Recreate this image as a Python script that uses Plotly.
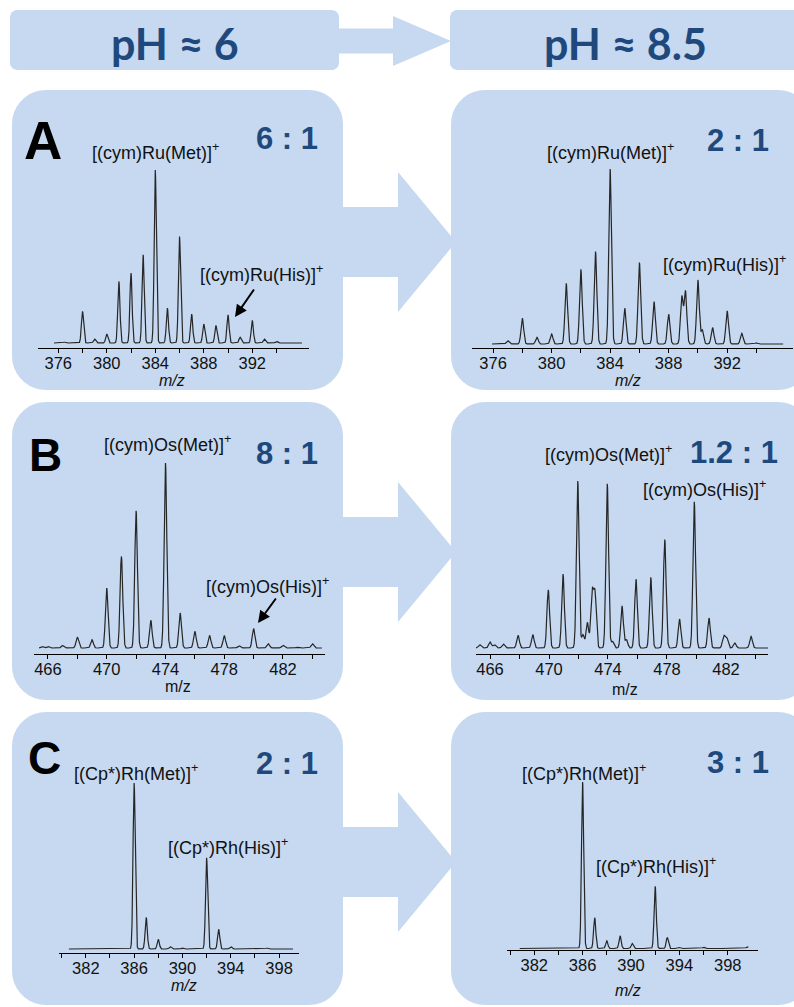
import numpy as np
import plotly.graph_objects as go

# ---------------------------------------------------------------- data
# peak lists (m/z, relative intensity in %) for each ESI-MS spectrum
ru_ph6_mz = [376.5, 378, 379, 380, 381, 382, 383, 384, 385, 386, 387, 388, 389, 390, 391, 392, 393, 394]
ru_ph6_int = [0.6, 18.3, 2.3, 5.2, 35.6, 40.4, 51.0, 100, 20.2, 61.5, 16.7, 11.0, 10.2, 16.3, 3.3, 13.1, 2.3, 1.0]

ru_ph85_mz = [377, 378, 379, 380, 381, 382, 383, 384, 385, 386, 387, 388, 388.9, 389.15, 390, 390.3,
              391, 392, 393, 394]
ru_ph85_int = [1.9, 14.7, 3.8, 5.7, 34.7, 42.7, 52.9, 100, 20.4, 46.6, 24.2, 17.0, 27.0, 30.0, 36.6, 8.0,
               9.4, 18.9, 6.1, 0.6]

os_ph6_mz = [465.6, 466, 467, 468, 469, 470, 471, 472, 473, 474, 475, 476, 477, 478, 479, 480, 481, 482, 483, 484]
os_ph6_int = [0.9, 0.9, 1.3, 5.9, 4.5, 32.4, 49.5, 74.2, 15.0, 100, 18.9, 9.0, 6.8, 6.7, 1.3, 10.5, 2.3, 1.4, 0.5, 2.3]

os_ph85_mz = [465.3, 466.0, 466.3, 466.9, 467.9, 468.9, 469.95, 470.95, 471.95, 472.3, 472.6, 472.92, 473.12,
              473.95, 474.3, 474.95, 475.25, 475.9, 476.9, 477.85, 478.85, 479.85, 480.85, 481.85, 482.05,
              482.6, 483.7]
os_ph85_int = [2.0, 3.6, 2.0, 2.4, 7.6, 8.0, 34.8, 44.3, 100, 8.0, 15.3, 33.0, 32.0,
               98.4, 4.0, 25.2, 5.0, 41.2, 42.3, 65.0, 17.3, 87.5, 17.9, 7.0, 6.0,
               3.0, 7.0]

rh_ph6_mz = [386, 387, 388, 389, 390, 392, 393, 394, 397]
rh_ph6_int = [100, 19.0, 5.8, 1.4, 0.6, 54.9, 11.8, 1.4, 0.6]

rh_ph85_mz = [386, 387, 388, 389.1, 390.1, 392, 393, 394, 396, 399.6]
rh_ph85_int = [100, 18.5, 4.6, 7.6, 3.0, 37.4, 6.6, 0.6, 0.8, 1.0]

# labelled ticks and unlabelled minor ticks per metal
ru_tick_labels = [376, 380, 384, 388, 392]
ru_minor_ticks = [378, 382, 386, 390, 394]
os_tick_labels = [466, 470, 474, 478, 482]
os_minor_ticks = [468, 472, 476, 480, 484]
rh_tick_labels = [382, 386, 390, 394, 398]
rh_minor_ticks = [380, 384, 388, 392, 396]

ph_headers = ["pH ≈ 6", "pH ≈ 8.5"]
row_letters = ["A", "B", "C"]
ratios = ["6 : 1", "2 : 1", "8 : 1", "1.2 : 1", "2 : 1", "3 : 1"]
met_labels = ["[(cym)Ru(Met)]<sup>+</sup>", "[(cym)Os(Met)]<sup>+</sup>", "[(Cp*)Rh(Met)]<sup>+</sup>"]
his_labels = ["[(cym)Ru(His)]<sup>+</sup>", "[(cym)Os(His)]<sup>+</sup>", "[(Cp*)Rh(His)]<sup>+</sup>"]

# ---------------------------------------------------------------- page geometry (pixels)
W, H = 794, 1007
FILL = "#C6D9F0"
DARK = "#1F497D"
LINE = "#262626"
TEXT = "#111111"
SANS = "Liberation Sans, Arial, sans-serif"


def X(p):
    return p / W


def Y(p):
    return 1 - p / H


def rounded_rect(x0, y0, x1, y1, r, n=10):
    """Outline of a rounded rectangle in page pixels."""
    xs, ys = [], []
    corners = [(x1 - r, y0 + r, -90, 0), (x1 - r, y1 - r, 0, 90),
               (x0 + r, y1 - r, 90, 180), (x0 + r, y0 + r, 180, 270)]
    for cx, cy, a0, a1 in corners:
        t = np.radians(np.linspace(a0, a1, n))
        xs.extend(cx + r * np.cos(t))
        ys.extend(cy + r * np.sin(t))
    xs.append(xs[0])
    ys.append(ys[0])
    return xs, ys


def block_arrow(x0, xh, xt, yc, shaft_h, head_h):
    pts = [(x0, yc - shaft_h / 2), (xh, yc - shaft_h / 2), (xh, yc - head_h / 2), (xt, yc),
           (xh, yc + head_h / 2), (xh, yc + shaft_h / 2), (x0, yc + shaft_h / 2), (x0, yc - shaft_h / 2)]
    return [p[0] for p in pts], [p[1] for p in pts]


# spectrum frames: plot x-extent, axis range, axis line / baseline / 100 % level (px)
frames = [
    dict(mz=ru_ph6_mz, inten=ru_ph6_int, xpx=(38, 309), xr=(374.33, 396.68), span=(375.65, 396.1),
         axis=348, base=343, top=170, labels=ru_tick_labels, minor=ru_minor_ticks, italic=True),
    dict(mz=ru_ph85_mz, inten=ru_ph85_int, xpx=(472, 793), xr=(374.56, 396.5), span=(375.93, 395.83),
         axis=348, base=344, top=169, labels=ru_tick_labels, minor=ru_minor_ticks, italic=True),
    dict(mz=os_ph6_mz, inten=os_ph6_int, xpx=(34, 325), xr=(465.05, 484.86), span=(465.4, 484.65),
         axis=654, base=648, top=463, labels=os_tick_labels, minor=os_minor_ticks, italic=False),
    dict(mz=os_ph85_mz, inten=os_ph85_int, xpx=(476, 768), xr=(465.05, 484.85), span=(465.05, 484.85),
         axis=654, base=648, top=481, labels=os_tick_labels, minor=os_minor_ticks, italic=False),
    dict(mz=rh_ph6_mz, inten=rh_ph6_int, xpx=(59, 299), xr=(379.78, 399.65), span=(380.6, 399.15),
         axis=953, base=949, top=783, labels=rh_tick_labels, minor=rh_minor_ticks, italic=True),
    dict(mz=rh_ph85_mz, inten=rh_ph85_int, xpx=(507, 758), xr=(379.75, 400.5), span=(380.8, 399.7),
         axis=950, base=948.5, top=782, labels=rh_tick_labels, minor=rh_minor_ticks, italic=True),
]
mz_title_pos = [(172, 380), (628, 381), (178, 686), (625, 689), (184, 985), (628, 990)]
PEAK_SIGMA = 0.09

fig = go.Figure()
layout = dict(
    width=W, height=H, margin=dict(l=0, r=0, t=0, b=0),
    paper_bgcolor="white", plot_bgcolor="rgba(0,0,0,0)", showlegend=False,
    # full-page backdrop axes in pixel units (first subplot, so drawn underneath)
    xaxis=dict(domain=[0, 1], range=[0, W], visible=False, fixedrange=True),
    yaxis=dict(domain=[0, 1], range=[H, 0], visible=False, fixedrange=True),
)
annotations = []


def backdrop(xs, ys):
    fig.add_trace(go.Scatter(x=xs, y=ys, mode="lines", fill="toself", fillcolor=FILL,
                             line=dict(width=0, color=FILL), xaxis="x", yaxis="y", hoverinfo="skip"))


# ---------------------------------------------------------------- background boxes and arrows
backdrop(*rounded_rect(10, 10, 339, 70, 7))
backdrop(*rounded_rect(450, 10, 812, 70, 7))
backdrop(*block_arrow(335, 393, 451, 41, 25, 50))

panel_rows = [(90, 390, 242), (402, 700, 552), (712, 1005, 862)]
for top, bottom, yc in panel_rows:
    backdrop(*rounded_rect(12, top, 343, bottom, 34))
    backdrop(*rounded_rect(451, top, 812, bottom, 34))
    backdrop(*block_arrow(340, 398, 456, yc, 70, 140))

for text, cx in zip(ph_headers, [175, 625]):
    annotations.append(dict(text=f"<b>{text}</b>", x=X(cx), y=Y(43), xref="paper", yref="paper",
                            showarrow=False, xanchor="center", yanchor="middle",
                            font=dict(family="Lato, Open Sans, sans-serif", size=43, color=DARK)))

# ---------------------------------------------------------------- spectra
for i, fr in enumerate(frames):
    n = str(i + 2)
    units_per_px = 100.0 / (fr["base"] - fr["top"])
    pad_top = 12
    y_lo = -(fr["axis"] - fr["base"]) * units_per_px
    y_hi = 100 + pad_top * units_per_px

    mz = np.arange(fr["span"][0], fr["span"][1], 0.004)
    centres = np.asarray(fr["mz"])[:, None]
    heights = np.asarray(fr["inten"])[:, None]
    profile = (heights * np.exp(-0.5 * ((mz[None, :] - centres) / PEAK_SIGMA) ** 2)).sum(axis=0)

    fig.add_trace(go.Scatter(x=mz, y=profile, mode="lines", line=dict(color=LINE, width=1.2),
                             xaxis="x" + n, yaxis="y" + n, hoverinfo="skip"))

    layout["xaxis" + n] = dict(
        domain=[X(fr["xpx"][0]), X(fr["xpx"][1])], range=list(fr["xr"]), anchor="y" + n,
        showline=True, linecolor="black", linewidth=1, showgrid=False, zeroline=False,
        ticks="outside", ticklen=4, tickwidth=1, tickcolor="black",
        tickmode="array", tickvals=fr["labels"], ticktext=[str(v) for v in fr["labels"]],
        minor=dict(tickmode="array", tickvals=fr["minor"], ticks="outside", ticklen=4,
                   tickwidth=1, tickcolor="black", showgrid=False),
        ticklabelstandoff=-4,
        tickfont=dict(family=SANS, size=16.5, color=TEXT), fixedrange=True,
    )
    layout["yaxis" + n] = dict(
        domain=[Y(fr["axis"]), Y(fr["top"] - pad_top)], range=[y_lo, y_hi], anchor="x" + n,
        visible=False, fixedrange=True,
    )

    tx, ty = mz_title_pos[i]
    title = "<i>m/z</i>" if fr["italic"] else "m/z"
    annotations.append(dict(text=title, x=X(tx), y=Y(ty), xref="paper", yref="paper", showarrow=False,
                            xanchor="center", yanchor="middle", font=dict(family=SANS, size=16, color=TEXT)))

# ---------------------------------------------------------------- labels
letter_pos = [(43, 140, 53), (45, 455, 46), (44, 758, 46)]
for letter, (lx, ly, size) in zip(row_letters, letter_pos):
    annotations.append(dict(text=f"<b>{letter}</b>", x=X(lx), y=Y(ly), xref="paper", yref="paper",
                            showarrow=False, xanchor="center", yanchor="middle",
                            font=dict(family=SANS, size=size, color="black")))

ratio_pos = [(287, 138), (738, 140), (287, 453), (734, 452), (287, 763), (738, 762)]
for text, (rx, ry) in zip(ratios, ratio_pos):
    annotations.append(dict(text=f"<b>{text}</b>", x=X(rx), y=Y(ry), xref="paper", yref="paper",
                            showarrow=False, xanchor="center", yanchor="middle",
                            font=dict(family=SANS, size=31, color=DARK)))

met_pos = [(155, 152), (610, 152), (167, 443), (608, 453), (136, 772), (584, 772)]
his_pos = [(261, 273), (724, 263), (267, 585), (704, 488), (228, 846), (656, 865)]
for i in range(6):
    row = i // 2
    for text, (lx, ly) in ((met_labels[row], met_pos[i]), (his_labels[row], his_pos[i])):
        annotations.append(dict(text=text, x=X(lx), y=Y(ly), xref="paper", yref="paper",
                                showarrow=False, xanchor="center", yanchor="middle",
                                font=dict(family=SANS, size=18, color=TEXT)))

# pointer arrows to the His adduct peaks (tail -> tip, px)
for (tx0, ty0), (tx1, ty1) in [((255, 288), (235, 317)), ((277, 597), (258, 623))]:
    annotations.append(dict(text="", x=X(tx1), y=Y(ty1), xref="paper", yref="paper",
                            ax=tx0 - tx1, ay=ty0 - ty1, showarrow=True, arrowhead=2,
                            arrowsize=1.2, arrowwidth=2, arrowcolor="black"))

layout["annotations"] = annotations
fig.update_layout(**layout)
fig.write_html("out.html")
